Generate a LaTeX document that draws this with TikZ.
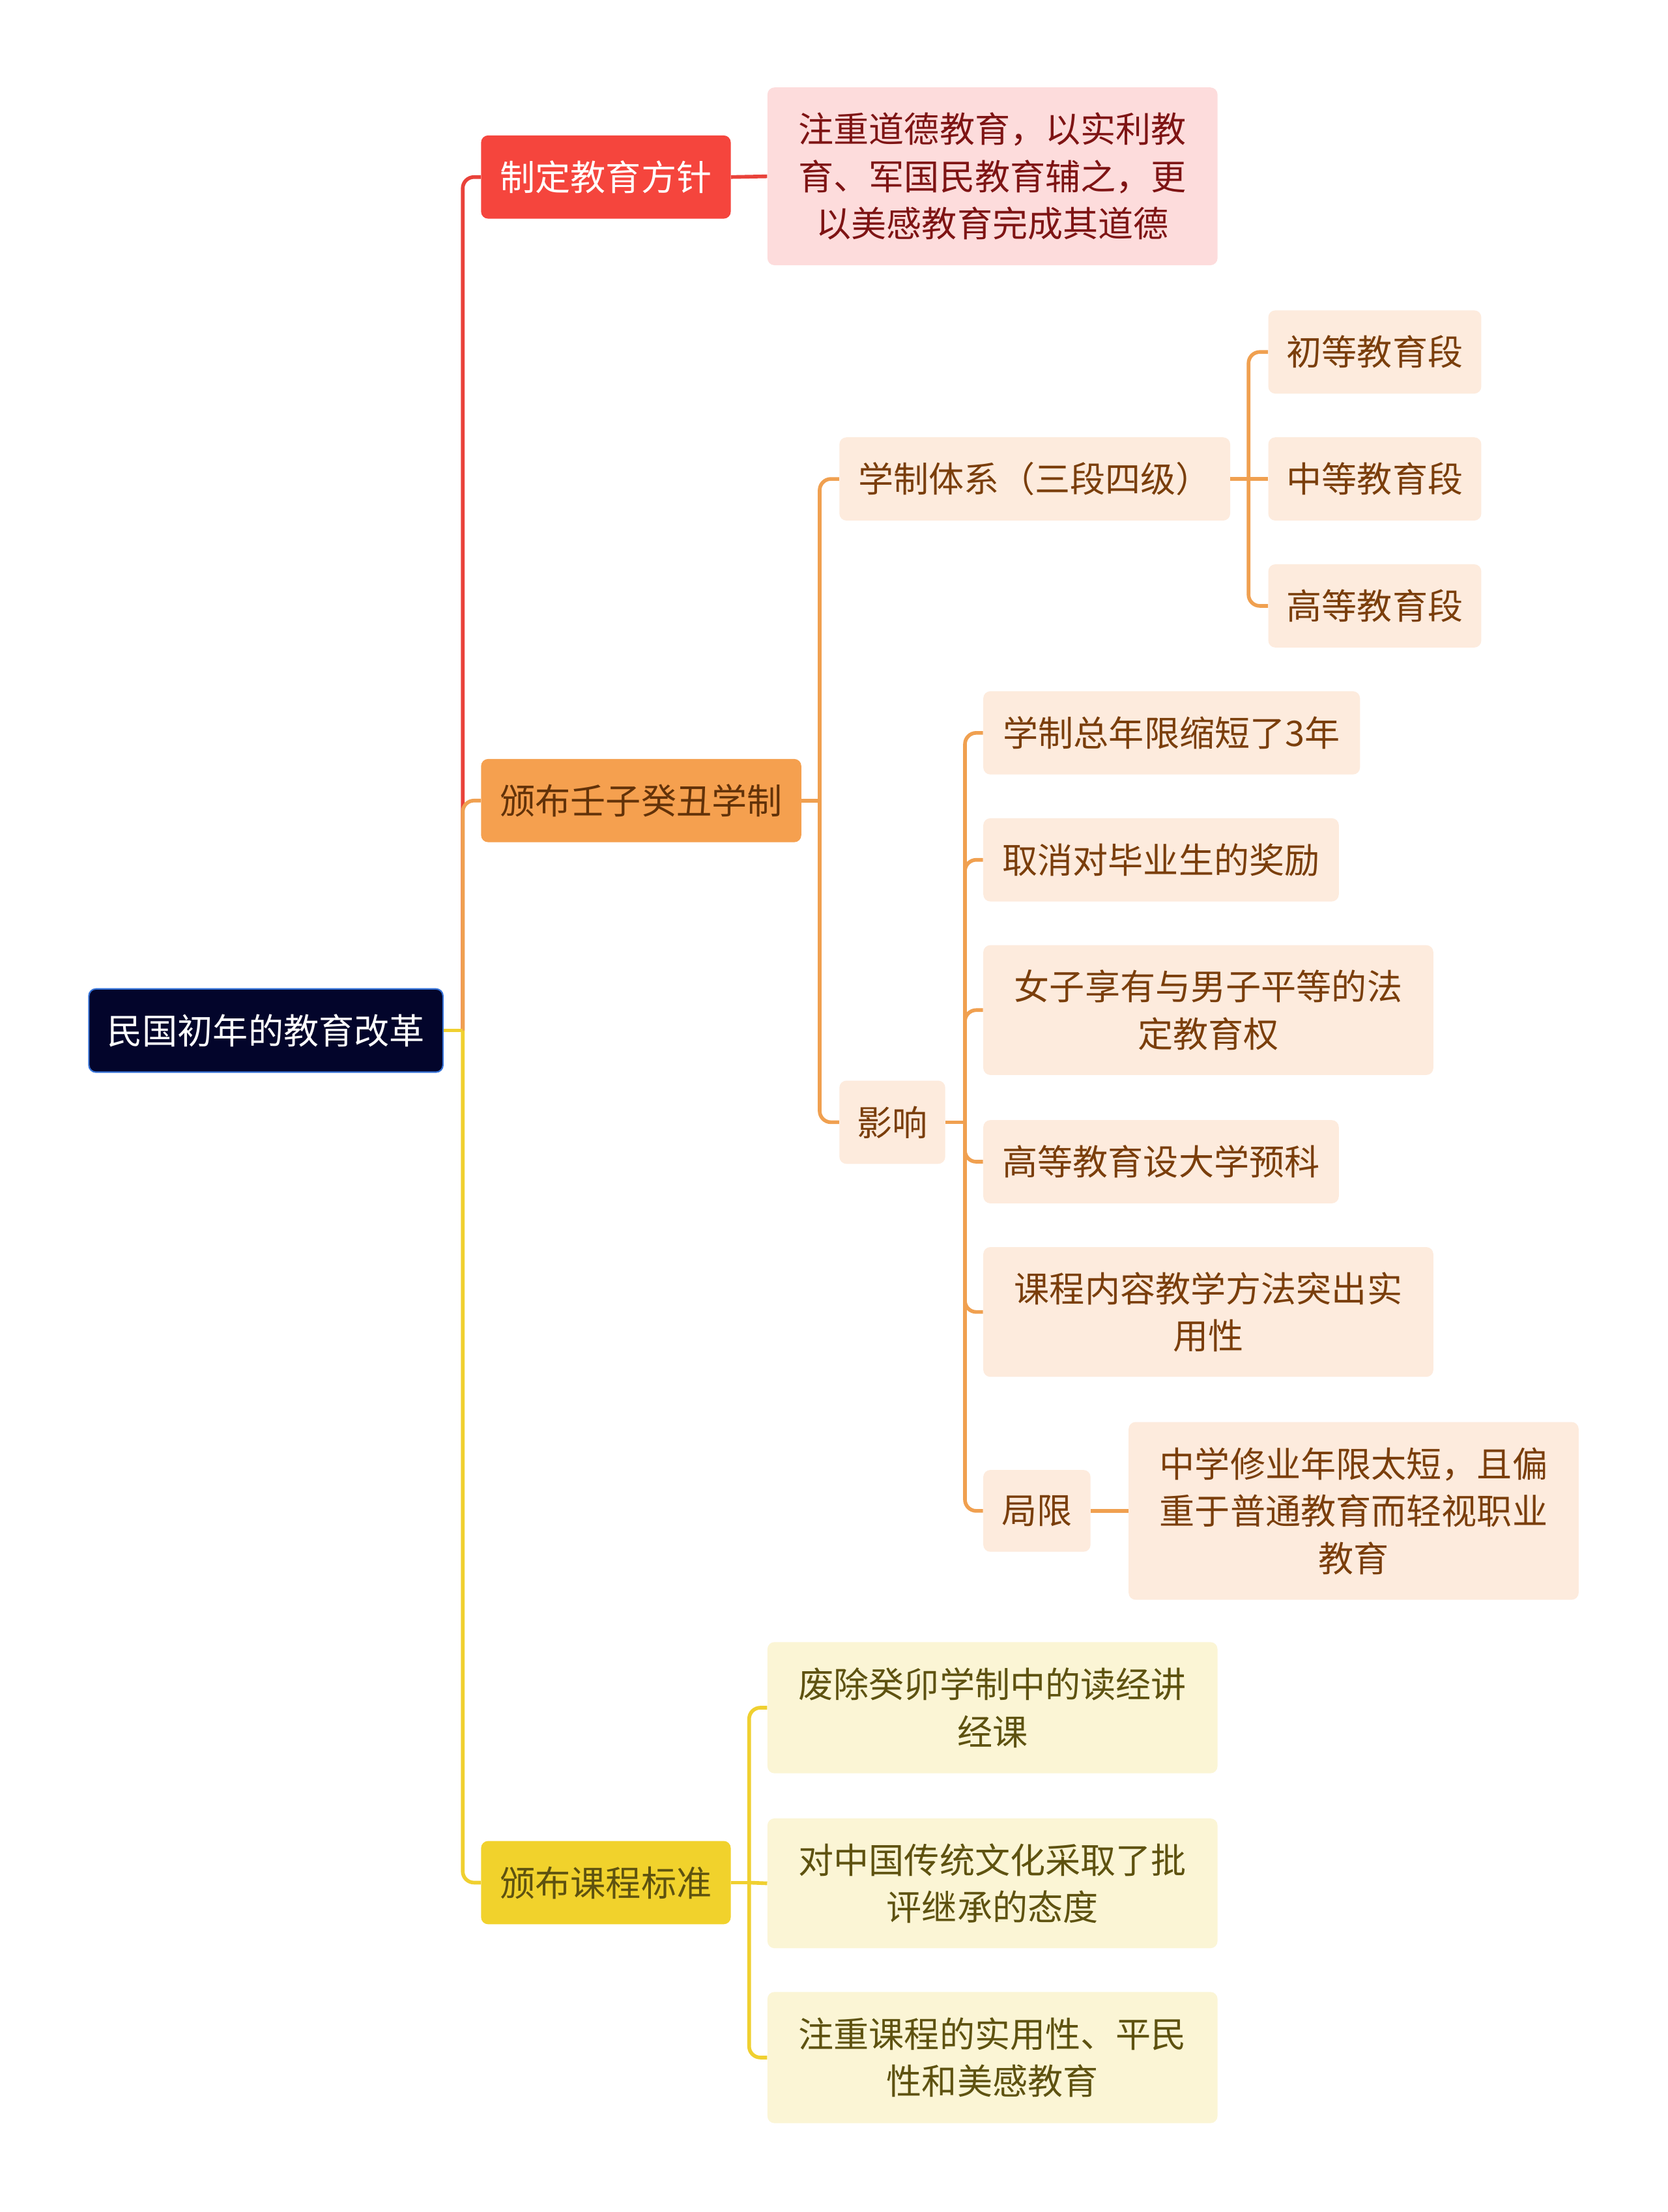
\documentclass[tikz,border=0pt]{standalone}
\usepackage{fontspec}
\newfontfamily\cjk{Noto Sans CJK SC}
\definecolor{rootfill}{HTML}{03052B}
\definecolor{rootline}{HTML}{3571D6}
\definecolor{redfill}{HTML}{F5453D}
\definecolor{redleaf}{HTML}{FDDCDC}
\definecolor{redtext}{HTML}{7E1414}
\definecolor{orfill}{HTML}{F5A04F}
\definecolor{orleaf}{HTML}{FDEBDD}
\definecolor{ortext}{HTML}{7A3E0B}
\definecolor{orline}{HTML}{F0A050}
\definecolor{yefill}{HTML}{F1D22C}
\definecolor{yeleaf}{HTML}{FBF5D5}
\definecolor{yetext}{HTML}{5E5210}
\definecolor{yeline}{HTML}{F0D030}
\tikzset{
  box/.style={rounded corners=5pt, inner sep=0pt, align=center,
    font=\cjk\fontsize{25}{33.5}\selectfont},
  rootbox/.style={box, fill=rootfill, draw=rootline, line width=1pt, text=white},
  redmain/.style={box, fill=redfill, text=white},
  redleafbox/.style={box, fill=redleaf, text=redtext},
  ormain/.style={box, fill=orfill, text=ortext!80!black},
  orleafbox/.style={box, fill=orleaf, text=ortext},
  yemain/.style={box, fill=yefill, text=yetext},
  yeleafbox/.style={box, fill=yeleaf, text=yetext},
  redlink/.style={draw=redfill!95!black, line width=2.6pt, rounded corners=8pt},
  orlink/.style={draw=orline, line width=2.6pt, rounded corners=8pt},
  yelink/.style={draw=yeline, line width=2.6pt, rounded corners=8pt}
}
\begin{document}
\begin{tikzpicture}[x=1pt,y=-1pt]
  \useasboundingbox[fill=white] (0,0) rectangle (1182,1568);

  \node[rootbox, minimum width=251pt, minimum height=59pt] (root) at (188.5,730.5) {民国初年的教育改革};

  \node[redmain, minimum width=177pt, minimum height=59pt] (fz) at (429.5,125.5) {制定教育方针};
  \node[redleafbox, minimum width=319pt, minimum height=126pt] (fz1) at (703.5,125) {注重道德教育，以实利教\\育、军国民教育辅之，更\\以美感教育完成其道德};

  \node[ormain, minimum width=227pt, minimum height=59pt] (xz) at (454.5,567.5) {颁布壬子癸丑学制};
  \node[orleafbox, minimum width=277pt, minimum height=59pt] (tx) at (733.5,339.5) {学制体系（三段四级）};
  \node[orleafbox, minimum width=151pt, minimum height=59pt] (tx1) at (974.5,249.5) {初等教育段};
  \node[orleafbox, minimum width=151pt, minimum height=59pt] (tx2) at (974.5,339.5) {中等教育段};
  \node[orleafbox, minimum width=151pt, minimum height=59pt] (tx3) at (974.5,429.5) {高等教育段};
  \node[orleafbox, minimum width=75pt, minimum height=59pt] (yx) at (632.5,795.5) {影响};
  \node[orleafbox, minimum width=267pt, minimum height=59pt] (yx1) at (830.5,519.5) {学制总年限缩短了3年};
  \node[orleafbox, minimum width=252pt, minimum height=59pt] (yx2) at (823,609.5) {取消对毕业生的奖励};
  \node[orleafbox, minimum width=319pt, minimum height=92pt] (yx3) at (856.5,716) {女子享有与男子平等的法\\定教育权};
  \node[orleafbox, minimum width=252pt, minimum height=59pt] (yx4) at (823,823.5) {高等教育设大学预科};
  \node[orleafbox, minimum width=319pt, minimum height=92pt] (yx5) at (856.5,930) {课程内容教学方法突出实\\用性};
  \node[orleafbox, minimum width=76pt, minimum height=58pt] (jx) at (735,1071) {局限};
  \node[orleafbox, minimum width=319pt, minimum height=126pt] (jx1) at (959.5,1071) {中学修业年限太短，且偏\\重于普通教育而轻视职业\\教育};

  \node[yemain, minimum width=177pt, minimum height=59pt] (kc) at (429.5,1334.5) {颁布课程标准};
  \node[yeleafbox, minimum width=319pt, minimum height=93pt] (kc1) at (703.5,1210.5) {废除癸卯学制中的读经讲\\经课};
  \node[yeleafbox, minimum width=319pt, minimum height=92pt] (kc2) at (703.5,1335) {对中国传统文化采取了批\\评继承的态度};
  \node[yeleafbox, minimum width=319pt, minimum height=93pt] (kc3) at (703.5,1458.5) {注重课程的实用性、平民\\性和美感教育};

  \coordinate (b0) at (328,730.5);
  \coordinate (b2) at (581,567.5);
  \coordinate (b3) at (885,339.5);
  \coordinate (b4) at (684,795.5);
  \coordinate (b5) at (531,1334.5);

  \draw[redlink] (b0) |- (fz.west);
  \draw[redlink] (fz.east) -- (fz1.west);
  \draw[orlink] (b0) |- (xz.west);
  \draw[yelink] (b0) |- (kc.west);
  \draw[yelink] (root.east) -- (b0);

  \draw[orlink] (xz.east) -- (b2);
  \draw[orlink] (b2) |- (tx.west);
  \draw[orlink] (b2) |- (yx.west);
  \draw[orlink] (tx.east) -- (b3);
  \draw[orlink] (b3) |- (tx1.west);
  \draw[orlink] (b3) -- (tx2.west);
  \draw[orlink] (b3) |- (tx3.west);
  \draw[orlink] (yx.east) -- (b4);
  \foreach \n in {yx1,yx2,yx3,yx4,yx5,jx}
    \draw[orlink] (b4) |- (\n.west);
  \draw[orlink] (jx.east) -- (jx1.west);

  \draw[yelink] (kc.east) -- (b5);
  \draw[yelink] (b5) |- (kc1.west);
  \draw[yelink] (b5) -- (kc2.west);
  \draw[yelink] (b5) |- (kc3.west);
\end{tikzpicture}
\end{document}
